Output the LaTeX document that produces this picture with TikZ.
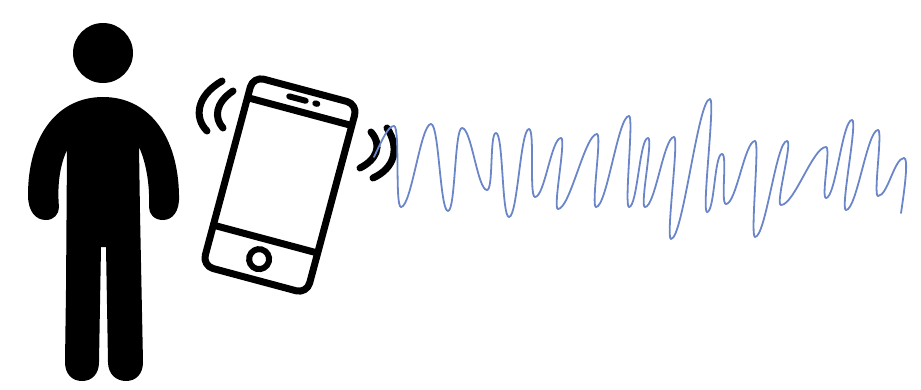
\documentclass[tikz,border=0pt]{standalone}
\usepackage{tikz}
\begin{document}
\begin{tikzpicture}[x=1pt, y=-1pt,
  phoneline/.style={draw=black, line width=7pt, line cap=round, line join=round},
  wave/.style={draw=black, line width=7pt, line cap=round},
  signal/.style={draw=sigblue, line width=1.8pt, line cap=round}]
\definecolor{sigblue}{HTML}{6A85C8}
\useasboundingbox (0,0) rectangle (921,389);
% person
\fill (103,53) circle (30);
\fill (103,97) .. controls (58,97) and (28,135) .. (28,195)
  .. controls (28,212) and (36,220) .. (46,220)
  .. controls (54,220) and (59,214) .. (59,207)
  .. controls (57,185) and (60,165) .. (67,150)
  -- (66,290) -- (65,362)
  .. controls (65,374) and (72,381) .. (82,381)
  .. controls (92,381) and (99,374) .. (99,362)
  -- (101,247) -- (106,247) -- (108,362)
  .. controls (108,374) and (116,381) .. (126,381)
  .. controls (136,381) and (143,374) .. (143,362)
  -- (140,213) -- (139,147)
  .. controls (146,162) and (150,185) .. (149,207)
  .. controls (149,214) and (154,220) .. (163,220)
  .. controls (172,220) and (180,212) .. (179,195)
  .. controls (178,135) and (148,97) .. (103,97) -- cycle;
% phone
\begin{scope}[shift={(280,185)}, rotate=-15]
  \draw[phoneline, rounded corners=11pt] (-54,-98) rectangle (54,98);
  \draw[phoneline, line cap=butt] (-54,-76) -- (54,-76);
  \draw[phoneline, line cap=butt] (-54,56) -- (54,56);
  \draw[line width=6pt] (-1,77) circle (10);
  \draw[line width=6pt, line cap=round] (-14,-88) -- (3,-88);
  \draw[line width=6pt, line cap=round] (13,-88) -- (15,-88);
\end{scope}
% vibration marks
\draw[wave] (222,81) .. controls (196,96) and (194,118) .. (207,131);
\draw[wave] (233,91) .. controls (215,103) and (214,118) .. (223,128);
\draw[wave] (371,132) .. controls (383,146) and (376,160) .. (360,168);
\draw[wave] (387,128) .. controls (400,148) and (395,168) .. (373,178);
% signal
\draw[signal] (374,157) .. controls (382,140) and (388,126) .. (394,126);
\foreach \xa/\ya [remember=\xa as \xb (initially 394), remember=\ya as \yb (initially 126)] in {
  401/207, 431/124, 448/211, 462/128, 487/190, 496/133, 509/217, 529/129,
  535/197, 561/138, 558/209, 597/134, 596/207, 629/116, 629/207, 648/138,
  645/207, 674/137, 671/239, 710/99, 707/212, 722/154, 726/204, 755/141,
  755/237, 787/141, 781/205, 826/147, 826/198, 852/120, 846/210, 878/130,
  878/196, 904/158} {
  \pgfmathsetmacro{\hx}{5+0.18*abs(\xa-\xb)}
  \draw[signal] (\xb,\yb) .. controls +(\hx,0) and +(-\hx,0) .. (\xa,\ya);
}
\draw[signal] (904,158) .. controls (908,158) and (906,180) .. (901,213);
\end{tikzpicture}
\end{document}
